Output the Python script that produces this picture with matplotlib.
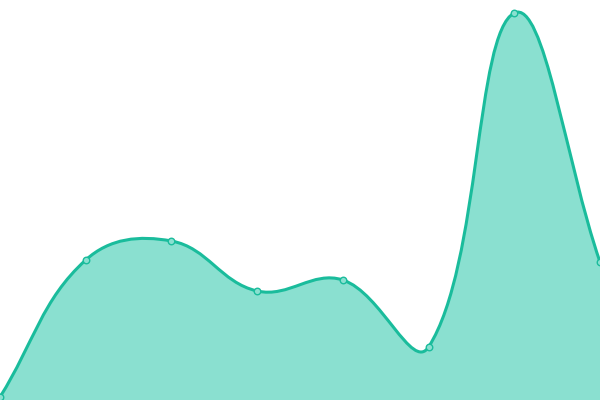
import numpy as np
import matplotlib
matplotlib.use("Agg")
import matplotlib.pyplot as plt
from matplotlib.path import Path
from matplotlib.patches import PathPatch

# values (pixel height from bottom)
labels = ["A", "B", "C", "D", "E", "F", "G", "H"]
values = [3, 140, 159, 109, 120, 53, 387, 138]

line_color = "#1abc9c"
fill_color = "#8ae0d0"
tension = 0.4

W, H = 600, 400
fig = plt.figure(figsize=(6, 4), dpi=100)
ax = fig.add_axes([0, 0, 1, 1])
n = len(values)
ax.set_xlim(0, n - 1)
ax.set_ylim(0, 400)
ax.axis("off")

# chart.js style spline, computed in pixel space
sx = W / (n - 1)
px = np.arange(n) * sx
py = np.array(values, dtype=float)
pts = np.column_stack([px, py])

ctrl_prev = []
ctrl_next = []
for i in range(n):
    cur = pts[i]
    prev = pts[i - 1] if i > 0 else cur
    nxt = pts[i + 1] if i < n - 1 else cur
    d01 = np.hypot(*(cur - prev))
    d12 = np.hypot(*(nxt - cur))
    tot = d01 + d12
    s01 = d01 / tot if tot else 0
    s12 = d12 / tot if tot else 0
    ctrl_prev.append(cur - tension * s01 * (nxt - prev))
    ctrl_next.append(cur + tension * s12 * (nxt - prev))

verts = [pts[0]]
codes = [Path.MOVETO]
for i in range(n - 1):
    verts += [ctrl_next[i], ctrl_prev[i + 1], pts[i + 1]]
    codes += [Path.CURVE4] * 3
verts = np.array(verts)
verts[:, 0] /= sx

line_path = Path(verts, codes)
fill_verts = np.vstack([verts, [[n - 1, 0], [0, 0], verts[0]]])
fill_codes = codes + [Path.LINETO, Path.LINETO, Path.CLOSEPOLY]
fill_path = Path(fill_verts, fill_codes)

ax.add_patch(PathPatch(fill_path, facecolor=fill_color, edgecolor="none", zorder=1))
ax.add_patch(PathPatch(line_path, facecolor="none", edgecolor=line_color, lw=2.2,
                       capstyle="round", joinstyle="round", zorder=2))
ax.scatter(np.arange(n), values, s=22, facecolor=fill_color, edgecolor=line_color,
           linewidth=1, zorder=3, clip_on=False)

fig.savefig("out.png", dpi=100)
